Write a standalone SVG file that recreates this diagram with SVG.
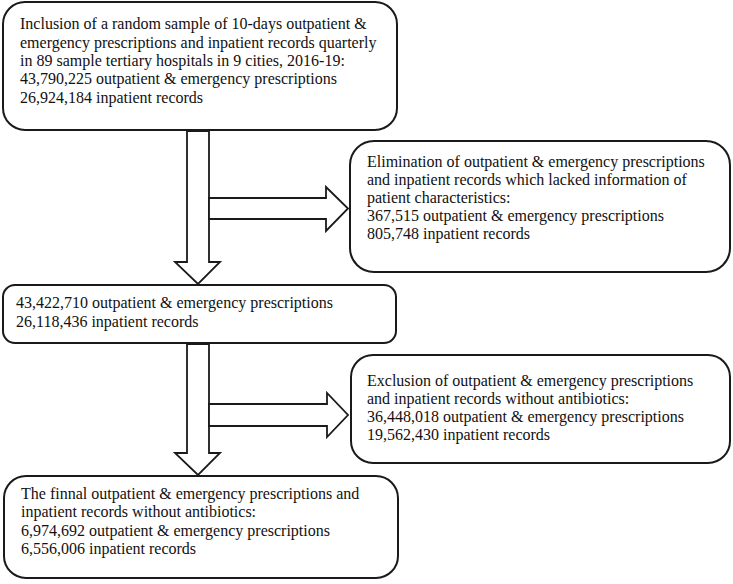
<svg xmlns="http://www.w3.org/2000/svg" width="733" height="584" viewBox="0 0 733 584">
<style>
.box{fill:#fff;stroke:#1a1a1a;stroke-width:2}
.arr{fill:#fff;stroke:#1a1a1a;stroke-width:1.8;stroke-linejoin:miter}
text{font-family:"Liberation Serif","Times New Roman",serif;font-size:16px;fill:#111}
</style>
<rect width="733" height="584" fill="#fff"/>
<g id="connectors">
<polygon class="arr" points="187,131 209,131 209,262 220,262 198,284 175,262 187,262"/>
<polygon class="arr" points="209,198 326,198 326,187 348,208.5 326,231 326,219 209,219"/>
<polygon class="arr" points="187,344 209,344 209,453 220,453 198,475 175,453 187,453"/>
<polygon class="arr" points="209,404 327,404 327,393 348,415 327,437 327,426 209,426"/>
</g>
<g id="n1">
<rect class="box" x="3" y="2" width="394" height="128" rx="22"/>
<text x="20" y="29">Inclusion of a random sample of 10-days outpatient &amp;</text>
<text x="20" y="48">emergency prescriptions and inpatient records quarterly</text>
<text x="20" y="66">in 89 sample tertiary hospitals in 9 cities, 2016-19:</text>
<text x="20" y="84">43,790,225 outpatient &amp; emergency prescriptions</text>
<text x="20" y="103">26,924,184 inpatient records</text>
</g>
<g id="n2">
<rect class="box" x="350" y="141" width="380" height="131" rx="24"/>
<text x="367" y="167">Elimination of outpatient &amp; emergency prescriptions</text>
<text x="367" y="185">and inpatient records which lacked information of</text>
<text x="367" y="203">patient characteristics:</text>
<text x="367" y="221">367,515 outpatient &amp; emergency prescriptions</text>
<text x="367" y="239">805,748 inpatient records</text>
</g>
<g id="n3">
<rect class="box" x="3" y="285" width="393" height="58" rx="12"/>
<text x="16" y="308">43,422,710 outpatient &amp; emergency prescriptions</text>
<text x="16" y="327">26,118,436 inpatient records</text>
</g>
<g id="n4">
<rect class="box" x="351" y="355" width="379" height="108" rx="22"/>
<text x="367" y="386">Exclusion of outpatient &amp; emergency prescriptions</text>
<text x="367" y="404">and inpatient records without antibiotics:</text>
<text x="367" y="422">36,448,018 outpatient &amp; emergency prescriptions</text>
<text x="367" y="440">19,562,430 inpatient records</text>
</g>
<g id="n5">
<rect class="box" x="4" y="476" width="394" height="102" rx="22"/>
<text x="21" y="499">The finnal outpatient &amp; emergency prescriptions and</text>
<text x="21" y="517">inpatient records without antibiotics:</text>
<text x="21" y="536">6,974,692 outpatient &amp; emergency prescriptions</text>
<text x="21" y="554">6,556,006 inpatient records</text>
</g>
</svg>
